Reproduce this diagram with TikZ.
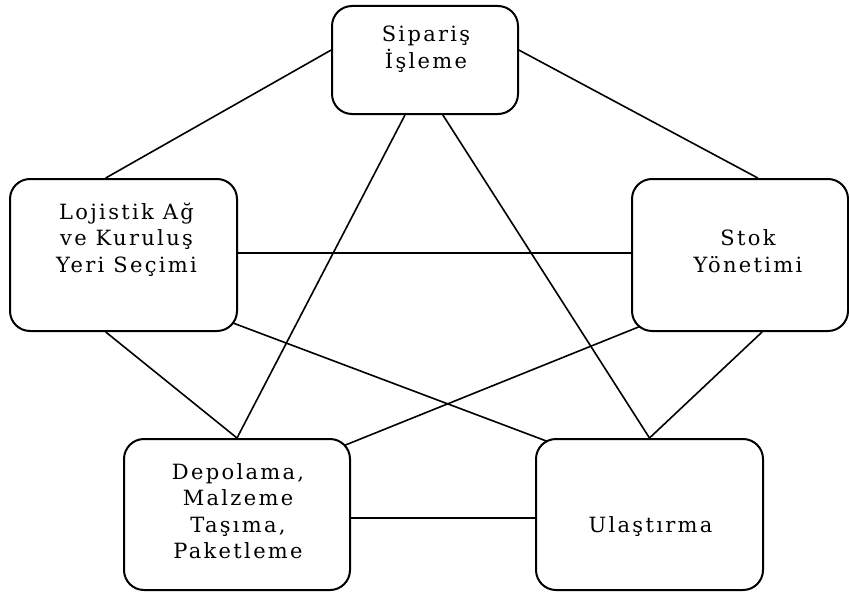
\documentclass[tikz,border=0pt]{standalone}
\usepackage{fontspec}
\setmainfont[LetterSpace=11]{DejaVu Serif}
\usetikzlibrary{calc,backgrounds}

\begin{document}
\begin{tikzpicture}[x=1pt, y=-1pt,
		box/.style={draw, line width=2pt, rounded corners=20pt, fill=white, inner sep=0pt},
		yazi/.style={align=center, inner sep=0pt, font=\fontsize{21}{26.5}\selectfont},
		bag/.style={draw, line width=1.6pt}]
	\useasboundingbox (0,0) rectangle (849,594);
	\node[box, minimum width=186pt, minimum height=108pt] (siparis) at (425,60) {};
	\node[box, minimum width=227pt, minimum height=152pt] (lojistik) at (123.5,255) {};
	\node[box, minimum width=216pt, minimum height=152pt] (stok) at (740,255) {};
	\node[box, minimum width=226pt, minimum height=151pt] (depolama) at (237,514.5) {};
	\node[box, minimum width=227pt, minimum height=151pt] (ulastirma) at (649.5,514.5) {};

	\node[yazi, xshift=1pt, yshift=10.7pt] (siparis-y) at (siparis) {Sipariş\\İşleme};
	\node[yazi, xshift=3pt, yshift=15.3pt] (lojistik-y) at (lojistik) {Lojistik Ağ\\ve Kuruluş\\Yeri Seçimi};
	\node[yazi, xshift=8pt, yshift=4pt] (stok-y) at (stok) {Stok\\Yönetimi};
	\node[yazi, xshift=1pt, yshift=3.5pt] (depolama-y) at (depolama) {Depolama,\\Malzeme\\Taşıma,\\Paketleme};
	\node[yazi, xshift=1pt, yshift=-12pt] (ulastirma-y) at (ulastirma) {Ulaştırma};

	\begin{scope}[on background layer]
		\path[bag] (siparis.174) -- (lojistik.103);
		\path[bag] (siparis.6) -- (stok.77);
		\path[bag] ($(lojistik.east)+(0,-2)$) -- ($(stok.west)+(0,-2)$);
		\path[bag] (siparis.250) -- (depolama.north);
		\path[bag] (siparis.288) -- (ulastirma.north);
		\path[bag] (lojistik.257) -- (depolama.north);
		\path[bag] (stok.286) -- (ulastirma.north);
		\path[bag] ($(lojistik.south east)+(-5,-9)$) -- ($(ulastirma.north west)+(14,4)$);
		\path[bag] ($(stok.south west)+(10,-6)$) -- ($(depolama.north east)+(-8,8)$);
		\path[bag] ($(depolama.east)+(0,3.5)$) -- ($(ulastirma.west)+(0,3.5)$);
	\end{scope}
\end{tikzpicture}
\end{document}
